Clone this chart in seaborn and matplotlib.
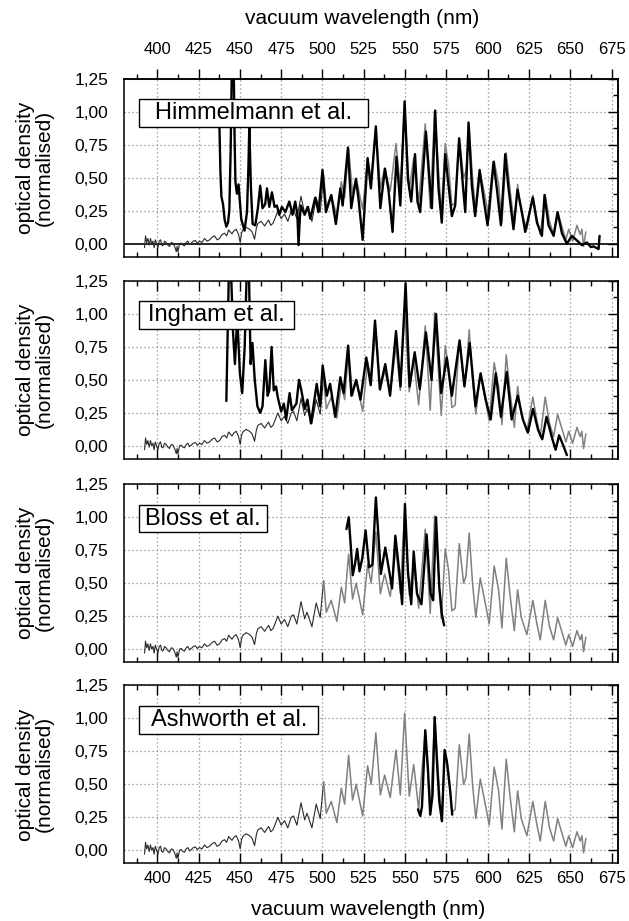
import numpy as np
import pandas as pd
import matplotlib
matplotlib.use("Agg")
import matplotlib.pyplot as plt
from matplotlib.ticker import MultipleLocator, FuncFormatter
from matplotlib.patches import Rectangle
import seaborn as sns

# Reference absorption spectrum (thin trace, repeated in every panel)
ref_nm = [392.3, 392.9, 393.6, 394.3, 395.1, 395.9, 396.6, 397.4, 398.1, 398.8,
          399.6, 400.4, 401.2, 402.0, 402.7, 403.4, 404.4, 405.4, 406.4, 407.4,
          408.5, 409.5, 410.5, 411.5, 412.0, 412.5, 413.5, 414.5, 415.5, 416.5,
          417.5, 418.5, 419.5, 420.6, 421.8, 423.0, 424.3, 425.6, 427.0, 428.6,
          430.1, 431.7, 433.2, 434.7, 436.2, 437.7, 439.2, 440.7, 442.0, 443.2,
          444.2, 445.2, 446.5, 447.8, 449.2, 450.2, 451.0, 451.8, 453.8, 455.9,
          457.4, 458.9, 460.0, 460.9, 462.9, 465.0, 466.2, 467.4, 468.7, 470.0,
          471.5, 473.0, 475.0, 477.0, 479.0, 481.1, 482.5, 484.5, 487.0, 489.2,
          490.6, 493.6, 496.2, 498.6, 500.7, 502.3, 505.3, 508.7, 511.4, 513.4,
          515.8, 518.2, 520.4, 524.3, 527.3, 529.5, 532.3, 535.0, 537.6, 541.0,
          544.5, 547.1, 549.7, 552.5, 555.2, 558.2, 562.2, 565.2, 567.9, 571.9,
          574.3, 576.3, 578.3, 580.3, 582.8, 585.4, 586.8, 588.8, 590.8, 592.8,
          595.5, 598.5, 600.9, 603.9, 606.6, 608.6, 611.2, 613.6, 616.1, 618.1,
          620.3, 623.7, 627.3, 629.8, 631.8, 634.8, 637.4, 639.9, 642.3, 644.9,
          647.3, 649.0, 651.4, 654.0, 656.0, 657.0, 658.0, 659.4]
ref_od = [-0.03, 0.06, 0.01, 0.04, -0.01, 0.04, 0.00, 0.02, -0.03, 0.03,
          0.00, -0.03, 0.02, 0.03, -0.01, -0.015, 0.02, 0.01, -0.01, -0.02,
          0.01, 0.005, -0.02, -0.06, -0.02, -0.06, 0.00, 0.005, -0.01, -0.015,
          0.01, 0.02, -0.005, 0.005, 0.02, 0.025, 0.005, 0.02, 0.01, 0.04,
          0.02, 0.03, 0.05, 0.06, 0.03, 0.04, 0.07, 0.08, 0.06, 0.105,
          0.09, 0.075, 0.10, 0.11, 0.07, 0.01, 0.08, 0.105, 0.125, 0.11,
          0.09, 0.035, 0.12, 0.155, 0.17, 0.135, 0.16, 0.18, 0.14, 0.155,
          0.20, 0.25, 0.19, 0.225, 0.17, 0.25, 0.26, 0.19, 0.36, 0.23,
          0.28, 0.17, 0.35, 0.24, 0.52, 0.28, 0.37, 0.21, 0.47, 0.35,
          0.72, 0.38, 0.50, 0.26, 0.64, 0.50, 0.89, 0.42, 0.57, 0.40,
          0.76, 0.42, 1.04, 0.41, 0.65, 0.31, 0.91, 0.27, 1.01, 0.23,
          0.76, 0.60, 0.29, 0.31, 0.80, 0.50, 0.55, 0.88, 0.50, 0.24,
          0.54, 0.35, 0.19, 0.63, 0.45, 0.16, 0.69, 0.40, 0.14, 0.45,
          0.24, 0.11, 0.37, 0.19, 0.07, 0.37, 0.17, 0.07, 0.24, 0.13,
          0.03, 0.11, 0.02, 0.14, 0.07, 0.11, -0.02, 0.09]

# Himmelmann et al.
himmelmann_nm = [437.5, 438.2, 438.8, 439.8, 440.8, 441.8, 442.8, 443.6, 444.4, 445.2,
                 446.2, 446.8, 447.3, 448.2, 449.2, 450.8, 452.8, 454.3, 455.2, 455.7,
                 456.7, 457.7, 459.3, 460.9, 462.3, 463.7, 465.3, 466.4, 467.8, 469.4,
                 471.0, 472.4, 473.8, 475.4, 477.5, 479.9, 481.9, 483.5, 484.8, 485.5,
                 486.3, 486.9, 489.2, 491.2, 492.6, 495.6, 497.6, 500.0, 502.1, 505.3,
                 508.1, 510.8, 512.2, 515.4, 517.4, 520.2, 521.8, 524.3, 527.3, 529.3,
                 532.3, 535.0, 537.8, 540.0, 542.4, 544.8, 547.1, 549.7, 551.7, 553.7,
                 556.0, 557.5, 559.1, 562.6, 565.2, 566.2, 568.2, 570.2, 572.2, 574.3,
                 576.3, 578.3, 580.3, 582.7, 585.0, 586.4, 588.4, 590.4, 592.4, 595.1,
                 597.5, 599.9, 603.5, 605.5, 608.0, 610.6, 612.6, 615.6, 618.0, 620.7,
                 622.7, 627.3, 629.8, 632.8, 634.4, 636.8, 639.9, 642.3, 644.9, 647.9,
                 650.9, 654.0, 657.0, 660.0, 662.4, 664.0, 667.1, 667.7]
himmelmann_od = [0.97, 0.55, 0.36, 0.30, 0.18, 0.13, 0.16, 0.25, 0.70, 1.40,
                 1.40, 0.80, 0.47, 0.38, 0.45, 0.19, 0.10, 0.24, 0.60, 0.89,
                 0.42, 0.15, 0.14, 0.27, 0.44, 0.27, 0.30, 0.42, 0.28, 0.39,
                 0.28, 0.29, 0.22, 0.28, 0.24, 0.32, 0.22, 0.32, 0.22, -0.01,
                 0.20, 0.29, 0.22, 0.28, 0.19, 0.35, 0.24, 0.56, 0.24, 0.37,
                 0.15, 0.42, 0.29, 0.73, 0.27, 0.49, 0.34, 0.03, 0.65, 0.42,
                 0.89, 0.27, 0.57, 0.40, 0.09, 0.66, 0.29, 1.08, 0.49, 0.32,
                 0.68, 0.32, 0.24, 0.85, 0.42, 0.27, 1.01, 0.42, 0.16, 0.68,
                 0.44, 0.21, 0.29, 0.80, 0.44, 0.24, 0.92, 0.44, 0.21, 0.56,
                 0.34, 0.14, 0.62, 0.42, 0.14, 0.68, 0.42, 0.11, 0.41, 0.24,
                 0.09, 0.35, 0.16, 0.06, 0.37, 0.14, 0.06, 0.24, 0.08, 0.00,
                 0.06, 0.025, -0.01, 0.01, -0.025, -0.02, -0.04, 0.06]

# Ingham et al.
ingham_nm = [441.8, 443.3, 444.7, 445.9, 447.0, 448.4, 450.0, 451.4, 452.9, 454.1,
             455.5, 456.5, 457.6, 459.0, 460.6, 462.3, 463.7, 465.4, 466.8, 467.8,
             469.2, 470.5, 471.9, 472.9, 475.0, 476.6, 478.0, 480.1, 481.5, 484.2,
             485.8, 487.2, 489.3, 490.9, 493.0, 496.5, 498.5, 500.1, 502.6, 504.6,
             507.7, 510.8, 512.8, 515.5, 517.5, 520.4, 523.0, 526.5, 529.2, 531.8,
             534.7, 538.0, 540.9, 544.5, 547.2, 550.3, 552.7, 555.8, 558.9, 562.6,
             566.0, 568.7, 571.8, 575.2, 578.3, 583.0, 585.9, 589.1, 592.6, 595.7,
             598.8, 601.8, 604.9, 608.0, 611.5, 614.5, 618.2, 621.3, 624.3, 627.4,
             630.5, 633.0, 635.6, 638.7, 641.1, 643.2, 645.8, 647.9]
ingham_od = [0.34, 1.30, 1.30, 0.85, 0.62, 0.98, 0.55, 0.40, 0.75, 1.30,
             1.30, 0.62, 0.78, 0.50, 0.30, 0.25, 0.30, 0.65, 0.38, 0.42,
             0.75, 0.42, 0.45, 0.37, 0.26, 0.32, 0.20, 0.40, 0.27, 0.32,
             0.50, 0.42, 0.28, 0.35, 0.17, 0.47, 0.30, 0.61, 0.38, 0.47,
             0.22, 0.52, 0.40, 0.76, 0.38, 0.50, 0.35, 0.67, 0.46, 0.95,
             0.43, 0.62, 0.38, 0.87, 0.45, 1.23, 0.45, 0.71, 0.43, 0.86,
             0.50, 1.00, 0.40, 0.67, 0.38, 0.80, 0.45, 0.78, 0.30, 0.55,
             0.35, 0.20, 0.55, 0.22, 0.56, 0.20, 0.38, 0.20, 0.10, 0.28,
             0.12, 0.05, 0.22, 0.07, -0.03, 0.08, 0.00, -0.07]

# Bloss et al.
bloss_nm = [514.5, 515.9, 516.9, 518.3, 519.6, 521.0, 522.4, 524.1, 526.1, 528.2,
            530.2, 532.3, 533.9, 535.3, 538.0, 540.4, 542.1, 544.1, 546.6, 548.2,
            549.9, 551.7, 553.7, 555.2, 557.2, 559.9, 563.0, 565.4, 567.0, 568.7,
            570.7, 572.2, 573.6]
bloss_od = [0.91, 1.00, 0.82, 0.56, 0.64, 0.76, 0.59, 0.69, 0.90, 0.62,
            0.64, 1.15, 0.85, 0.57, 0.77, 0.59, 0.46, 0.86, 0.57, 0.34,
            1.10, 0.59, 0.34, 0.74, 0.42, 0.34, 0.87, 0.42, 0.37, 1.00,
            0.47, 0.27, 0.18]

# Ashworth et al.
ashworth_nm = [557.8, 559.2, 560.2, 562.2, 563.8, 565.2, 566.6, 567.9, 569.5, 570.7,
               572.3, 573.9, 575.3, 577.3, 578.5]
ashworth_od = [0.31, 0.26, 0.33, 0.91, 0.62, 0.27, 0.42, 1.01, 0.62, 0.37,
               0.22, 0.76, 0.67, 0.45, 0.27]

panel_labels = ["Himmelmann et al.", "Ingham et al.", "Bloss et al.", "Ashworth et al."]
panel_series = [(himmelmann_nm, himmelmann_od), (ingham_nm, ingham_od),
                (bloss_nm, bloss_od), (ashworth_nm, ashworth_od)]
box_right_nm = [527.5, 482.7, 466.2, 497.5]

x_ticks = list(range(400, 676, 25))
y_ticks = [0.00, 0.25, 0.50, 0.75, 1.00, 1.25]

sns.set_style("white")
plt.rcParams["font.family"] = ["Liberation Sans", "DejaVu Sans"]
plt.rcParams.update({
    "axes.linewidth": 1.1,
    "axes.edgecolor": "black",
    "text.color": "black",
    "axes.labelcolor": "black",
    "xtick.color": "black",
    "ytick.color": "black",
})

ref = pd.DataFrame({"nm": ref_nm, "od": ref_od})
ref_blue = ref[ref["nm"] <= 501]
ref_red = ref[ref["nm"] >= 500.7]

fig = plt.figure(figsize=(6.29, 9.21), dpi=100)
left, width, height = 0.1975, 0.7854, 0.1933
bottoms = [0.7210, 0.5016, 0.2809, 0.0625]
comma = FuncFormatter(lambda v, p: f"{v:.2f}".replace(".", ","))
grid_kw = dict(color="#8a8a8a", linewidth=0.9, linestyle=(0, (1, 2.2)), zorder=0)

for i, b in enumerate(bottoms):
    ax = fig.add_axes([left, b, width, height])
    ax.set_xlim(380, 679)
    ax.set_ylim(-0.1, 1.25)

    for xv in x_ticks:
        ax.axvline(xv, **grid_kw)
    for yv in y_ticks:
        if i == 0 and yv == 0:
            continue
        ax.axhline(yv, **grid_kw)
    if i == 0:
        ax.axhline(0, color="black", linewidth=1.2, zorder=1)

    sns.lineplot(data=ref_blue, x="nm", y="od", ax=ax, color="#2a2a2a",
                 linewidth=0.8, sort=False, estimator=None, zorder=2)
    sns.lineplot(data=ref_red, x="nm", y="od", ax=ax, color="#808080",
                 linewidth=1.1, sort=False, estimator=None, zorder=2)
    nm, od = panel_series[i]
    sns.lineplot(x=nm, y=od, ax=ax, color="black", linewidth=1.7,
                 sort=False, estimator=None, zorder=3)

    # label box
    x0, x1 = 389.0, box_right_nm[i]
    ax.add_patch(Rectangle((x0, 0.885), x1 - x0, 0.21, facecolor="white",
                           edgecolor="black", linewidth=1.0, zorder=5))
    ax.text((x0 + x1) / 2, 0.99, panel_labels[i], ha="center", va="center",
            fontsize=17, zorder=6)

    ax.set_xlabel("")
    ax.set_ylabel("")
    ax.xaxis.set_major_locator(MultipleLocator(25))
    ax.xaxis.set_minor_locator(MultipleLocator(12.5))
    ax.yaxis.set_major_locator(MultipleLocator(0.25))
    ax.yaxis.set_minor_locator(MultipleLocator(0.125))
    ax.yaxis.set_major_formatter(comma)

    ax.tick_params(axis="x", which="both", direction="in", top=(i != 0),
                   bottom=True, labelbottom=(i == 3), labelsize=12, pad=5.5,
                   width=1.0)
    ax.tick_params(axis="x", which="major", length=7)
    ax.tick_params(axis="x", which="minor", length=3.5)
    ax.tick_params(axis="y", which="major", direction="out", length=7,
                   width=1.0, labelsize=12.5, pad=4.5, right=False)
    ax.tick_params(axis="y", which="minor", direction="in", length=3.5,
                   width=1.0, right=False)

    sec_y = ax.secondary_yaxis("right")
    sec_y.yaxis.set_major_locator(MultipleLocator(0.25))
    sec_y.yaxis.set_minor_locator(MultipleLocator(0.125))
    sec_y.tick_params(which="both", direction="in", labelright=False, width=1.0)
    sec_y.tick_params(which="major", length=7)
    sec_y.tick_params(which="minor", length=3.5)

    if i == 0:
        sec_x = ax.secondary_xaxis("top")
        sec_x.xaxis.set_major_locator(MultipleLocator(25))
        sec_x.xaxis.set_minor_locator(MultipleLocator(12.5))
        sec_x.tick_params(which="both", direction="out", labelsize=12, pad=8.5,
                          width=1.0)
        sec_x.tick_params(which="major", length=7)
        sec_x.tick_params(which="minor", length=3.5)

    fig.text(35 / 629, b + height / 2, "optical density\n(normalised)",
             rotation=90, ha="center", va="center", fontsize=15, linespacing=1.0)

fig.text(362 / 629, 1 - 18 / 921, "vacuum wavelength (nm)", ha="center",
         va="center", fontsize=15)
fig.text(368 / 629, 1 - 909 / 921, "vacuum wavelength (nm)", ha="center",
         va="center", fontsize=15)

fig.savefig("out.png", dpi=100)
